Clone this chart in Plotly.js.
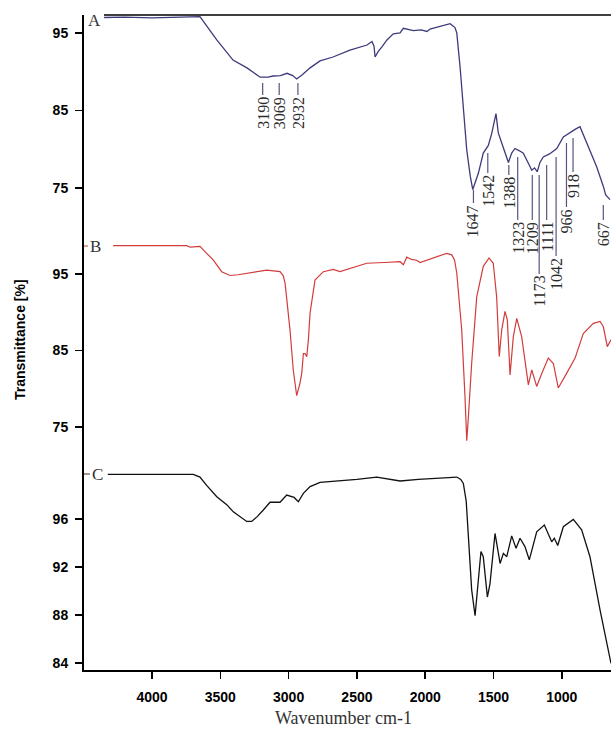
<!DOCTYPE html>
<html>
<head>
<meta charset="utf-8">
<script src="https://cdn.plot.ly/plotly-3.0.1.min.js"></script>
<style>
    html, body { margin: 0; padding: 0; background: #ffffff; }
    #ftir { width: 611px; height: 729px; }
</style>
</head>
<body>
<div id="ftir"></div>
<script>
// ------------------------------------------------------------------------------
// DATA

// Spectrum A
const waveA  = [4351, 4200, 4000, 3800, 3700, 3649, 3526, 3407, 3305, 3209, 3150, 3114, 3060, 3012, 2970,
                2941, 2900, 2843, 2770, 2675, 2551, 2426, 2390, 2375, 2367, 2345, 2317, 2280, 2234, 2184,
                2160, 2087, 2030, 1987, 1965, 1892, 1818, 1782, 1769, 1745, 1721, 1696, 1670, 1652, 1611,
                1575, 1538, 1513, 1482, 1465, 1440, 1391, 1367, 1343, 1310, 1282, 1245, 1220, 1200, 1180,
                1160, 1136, 1090, 1037, 989, 930, 900, 867, 818, 794, 745, 696, 679, 647];
const transA = [97.0, 97.05, 96.95, 97.05, 97.15, 97.1, 94.1, 91.5, 90.5, 89.3, 89.3, 89.45, 89.5, 89.8, 89.5,
                89.06, 89.6, 90.5, 91.4, 91.9, 92.8, 93.45, 93.9, 93.3, 91.9, 92.6, 93.2, 94.1, 94.9, 95.0,
                95.6, 95.3, 95.4, 95.2, 95.5, 95.8, 96.2, 95.7, 95.0, 90.65, 85.5, 79.9, 76.5, 74.8, 76.9,
                79.5, 80.5, 82.05, 84.6, 82.1, 80.8, 78.3, 79.5, 80.1, 79.8, 79.5, 78.2, 77.3, 77.6, 77.1,
                78.3, 79.0, 79.4, 80.1, 81.6, 82.3, 82.6, 82.9, 80.8, 79.9, 77.75, 75.2, 74.1, 73.5];

// Spectrum B
const waveB  = [4285, 4000, 3800, 3746, 3720, 3680, 3649, 3600, 3551, 3490, 3429, 3370, 3307, 3160, 3063,
                3040, 3026, 3005, 2990, 2966, 2941, 2917, 2904, 2892, 2880, 2867, 2855, 2843, 2807, 2746,
                2673, 2624, 2500, 2428, 2300, 2184, 2160, 2135, 2100, 2062, 2038, 1989, 1900, 1843, 1806,
                1785, 1769, 1733, 1709, 1696, 1684, 1660, 1623, 1575, 1533, 1502, 1477, 1458, 1440, 1416,
                1399, 1379, 1355, 1330, 1294, 1245, 1220, 1184, 1147, 1099, 1062, 1026, 965, 903, 843,
                769, 720, 696, 667, 640];
const transB = [98.7, 98.7, 98.7, 98.7, 98.5, 98.6, 98.6, 97.7, 96.8, 95.3, 94.8, 94.9, 95.1, 95.5, 95.3,
                94.8, 93.8, 90.5, 87.7, 82.45, 79.1, 80.7, 82.0, 84.6, 84.6, 84.2, 86.5, 89.9, 94.2, 95.3,
                95.6, 95.3, 96.0, 96.4, 96.5, 96.6, 96.2, 97.2, 96.9, 96.8, 96.5, 96.8, 97.3, 97.7, 97.5,
                96.8, 95.1, 87.7, 79.0, 73.2, 76.35, 83.3, 92.0, 96.0, 97.1, 96.4, 92.0, 84.2, 87.7, 90.1,
                89.0, 81.8, 86.8, 89.2, 86.8, 80.5, 82.45, 80.3, 82.0, 84.0, 83.3, 80.1, 82.0, 84.0, 87.2,
                88.55, 88.8, 88.1, 85.5, 86.4];

// Spectrum C
const waveC  = [4324, 4000, 3855, 3698, 3649, 3600, 3526, 3453, 3405, 3307, 3270, 3230, 3185, 3136, 3063,
                3014, 2960, 2929, 2892, 2843, 2770, 2648, 2500, 2355, 2184, 2050, 1941, 1800, 1769, 1740,
                1721, 1700, 1684, 1660, 1635, 1611, 1592, 1575, 1545, 1526, 1489, 1452, 1428, 1403, 1367,
                1335, 1306, 1270, 1238, 1184, 1128, 1074, 1055, 1030, 989, 916, 855, 794, 720, 640];
const transC = [99.72, 99.72, 99.75, 99.72, 99.5, 98.8, 97.86, 97.2, 96.6, 95.8, 95.8, 96.2, 96.75, 97.4, 97.4,
                98.0, 97.8, 97.44, 98.14, 98.7, 99.06, 99.17, 99.3, 99.5, 99.17, 99.3, 99.4, 99.5, 99.5, 99.3,
                98.97, 97.5, 94.8, 90.1, 87.94, 91.2, 93.3, 92.86, 89.5, 90.6, 94.8, 92.3, 93.14, 92.86, 94.6,
                93.56, 94.4, 93.7, 92.6, 94.94, 95.5, 94.1, 94.4, 93.8, 95.36, 95.97, 95.1, 92.86, 88.4, 83.97];

// Peak labels on spectrum A
const peakLabels = ['3190', '3069', '2932', '1647', '1542', '1388', '1323',
                    '1209', '1173', '1111', '1042', '966', '918', '667'];

// Tick labels
const xTicks  = [4000, 3500, 3000, 2500, 2000, 1500, 1000];
const yTicksA = [75, 85, 95];
const yTicksB = [75, 85, 95];
const yTicksC = [84, 88, 92, 96];

// ------------------------------------------------------------------------------
// PARAMETERS

const W = 611, H = 729;
const mL = 84, mR = 0, mT = 15, mB = 59;
const plotW = W - mL - mR;
const plotH = H - mT - mB;
const xRange = [4498, 640];
const pxPerWn = plotW / (xRange[0] - xRange[1]);

const serif = '"Liberation Serif", "Times New Roman", serif';
const sans  = '"Liberation Sans", Arial, sans-serif';

// pixel -> paper helpers
function px2x(px) { return (px - mL) / plotW; }
function px2y(py) { return (H - mB - py) / plotH; }

// peak marker line extents, pixels (top, bottom), plus a small sideways nudge
const peakLinePx = [[83, 95], [83, 95], [83, 95], [190, 203], [153, 173], [165, 175], [157, 220],
                    [175, 220], [175, 274], [165, 220], [157, 256], [143, 207], [138, 172], [205, 220]];
const peakNudgePx = [0, 0, 0, 0, 0, 0, 0, -1, 1, 0, 0, 0, 0, -4];

const domA = [px2y(228), 1];
const domB = [px2y(448), px2y(228)];
const domC = [0, px2y(448)];

function yAxis(domain, range, ticks) {
    return {
        domain: domain,
        range: range,
        autorange: false,
        anchor: 'x',
        tickmode: 'array',
        tickvals: ticks,
        ticks: 'outside',
        ticklen: 7,
        tickwidth: 1.5,
        tickcolor: '#000',
        ticklabelstandoff: 4,
        showline: true,
        linewidth: 2,
        linecolor: '#000',
        showgrid: false,
        zeroline: false,
        tickfont: { family: sans, size: 14, weight: 'bold', color: '#000' }
    };
}

// ------------------------------------------------------------------------------
// TRACES

const specA = {
    x: waveA, y: transA, yaxis: 'y3',
    mode: 'lines', type: 'scatter',
    line: { color: '#3d3a7c', width: 1.3 },
    hoverinfo: 'none'
};

const specB = {
    x: waveB, y: transB, yaxis: 'y2',
    mode: 'lines', type: 'scatter',
    line: { color: '#d23c3c', width: 1.2 },
    hoverinfo: 'none'
};

const specC = {
    x: waveC, y: transC, yaxis: 'y',
    mode: 'lines', type: 'scatter',
    line: { color: '#111111', width: 1.3 },
    hoverinfo: 'none'
};

// ------------------------------------------------------------------------------
// SHAPES + ANNOTATIONS

const shapes = [
    // top frame line
    { type: 'line', xref: 'paper', yref: 'paper', x0: px2x(104), x1: 1, y0: 1, y1: 1,
      line: { color: '#000', width: 1.5 } },
    // little dashes before B and C
    { type: 'line', xref: 'paper', yref: 'paper', x0: 0, x1: px2x(88), y0: px2y(246), y1: px2y(246),
      line: { color: '#c04040', width: 1 } },
    { type: 'line', xref: 'paper', yref: 'paper', x0: 0, x1: px2x(90), y0: px2y(474), y1: px2y(474),
      line: { color: '#333', width: 1 } }
];

function label(text, px, py, font, extra) {
    return Object.assign({
        text: text, x: px2x(px), y: px2y(py), xref: 'paper', yref: 'paper',
        xanchor: 'center', yanchor: 'middle', showarrow: false, font: font
    }, extra || {});
}

const annotations = [
    label('A', 94, 21, { family: serif, size: 17, color: '#333' }),
    label('B', 95, 246, { family: serif, size: 17, color: '#333' }),
    label('C', 97, 474, { family: serif, size: 17, color: '#333' }),
    label('Transmittance [%]', 20, 340, { family: sans, size: 14, weight: 'bold', color: '#000' },
          { textangle: -90 }),
    label('Wavenumber cm-1', 343, 718, { family: serif, size: 18, color: '#333' })
];

peakLabels.forEach((lab, i) => {
    const wn = Number(lab) - peakNudgePx[i] / pxPerWn;
    const top = peakLinePx[i][0], bot = peakLinePx[i][1];
    shapes.push({
        type: 'line', xref: 'x', yref: 'paper',
        x0: wn, x1: wn, y0: px2y(top), y1: px2y(bot),
        line: { color: '#56557f', width: 1.2 }
    });
    annotations.push({
        text: lab, x: wn, y: px2y(bot + 1), xref: 'x', yref: 'paper',
        xanchor: 'center', yanchor: 'top', textangle: -90, showarrow: false,
        borderpad: 0,
        font: { family: serif, size: 16, color: '#2b2b2b' }
    });
});

// ------------------------------------------------------------------------------
// LAYOUT

const layout = {
    width: W,
    height: H,
    showlegend: false,
    paper_bgcolor: '#ffffff',
    plot_bgcolor: '#ffffff',
    margin: { l: mL, r: mR, t: mT, b: mB, pad: 0 },
    xaxis: {
        range: xRange,
        autorange: false,
        anchor: 'y',
        tickmode: 'array',
        tickvals: xTicks,
        ticks: 'outside',
        ticklen: 7,
        tickwidth: 1.5,
        tickcolor: '#000',
        ticklabelstandoff: 6,
        showline: true,
        linewidth: 2,
        linecolor: '#000',
        showgrid: false,
        zeroline: false,
        tickfont: { family: sans, size: 14, weight: 'bold', color: '#000' }
    },
    yaxis:  yAxis(domC, [83.42, 101.92], yTicksC),
    yaxis2: yAxis(domB, [72.25, 101.01], yTicksB),
    yaxis3: yAxis(domA, [69.84, 97.32], yTicksA),
    shapes: shapes,
    annotations: annotations
};

Plotly.newPlot('ftir', [specC, specB, specA], layout, { displayModeBar: false, staticPlot: true });
</script>
</body>
</html>
